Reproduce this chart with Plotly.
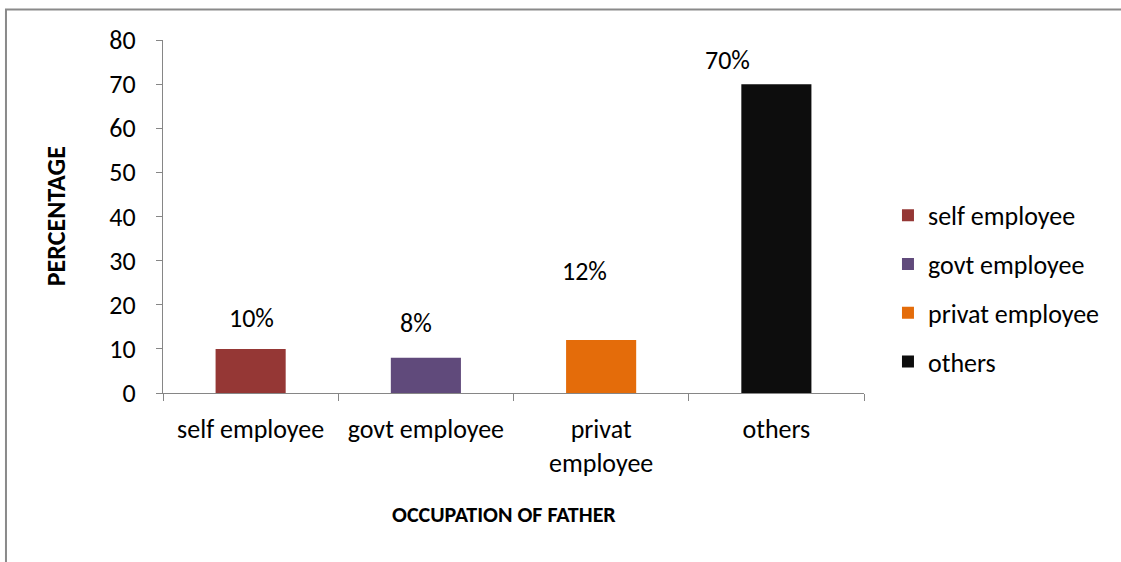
import plotly.graph_objects as go

# Occupation of father: share of respondents (%)
categories = ["self employee", "govt employee", "privat employee", "others"]
tick_labels = ["self employee", "govt employee", "privat<br>employee", "others"]
percentages = [10, 8, 12, 70]
value_labels = ["10%", "8%", "12%", "70%"]
bar_colors = ["#953735", "#604A7B", "#E46C0A", "#0D0D0D"]

# per-label nudges (px) for the value labels above the bars
label_dx = [1, -10, -17, -49]
label_dy = [31, 35, 69, 24]

FONT = "Calibri, Carlito, Lato, sans-serif"
AXIS_GREY = "#868686"
TXT = 26

fig = go.Figure()
for cat, val, col in zip(categories, percentages, bar_colors):
    fig.add_trace(go.Bar(
        x=[cat], y=[val], name=cat, width=0.4,
        marker=dict(color=col, line=dict(width=0)),
        legendgroup=cat, hoverinfo="x+y",
    ))

for cat, val, txt, dx, dy in zip(categories, percentages, value_labels, label_dx, label_dy):
    fig.add_annotation(x=cat, y=val, text=txt, showarrow=False,
                       xshift=dx, yshift=dy, font=dict(size=TXT, color="#000000"))

# axis titles
fig.add_annotation(x=-0.153, y=0.5, xref="paper", yref="paper", text="<b>PERCENTAGE</b>",
                   textangle=-90, showarrow=False, xanchor="center", yanchor="middle",
                   font=dict(size=26, color="#000000"))
fig.add_annotation(x=0.487, y=-0.345, xref="paper", yref="paper",
                   text="<b>OCCUPATION OF FATHER</b>", showarrow=False,
                   xanchor="center", yanchor="middle",
                   font=dict(size=22, color="#000000"))

# outer chart frame
fig.add_shape(type="rect", xref="paper", yref="paper",
              x0=-0.224, x1=1.7, y0=-0.8, y1=1.0864,
              line=dict(color="#8a8a8a", width=2), fillcolor="rgba(0,0,0,0)", layer="below")

fig.update_layout(
    width=1121, height=562,
    margin=dict(l=163, r=257, t=40, b=169),
    paper_bgcolor="white", plot_bgcolor="white",
    font=dict(family=FONT, size=TXT, color="#000000"),
    barmode="overlay",
    showlegend=True,
    legend=dict(x=1.0342, y=0.57, xanchor="left", yanchor="top",
                font=dict(size=TXT), tracegroupgap=12, bgcolor="rgba(0,0,0,0)"),
    xaxis=dict(
        type="category", categoryorder="array", categoryarray=categories,
        tickvals=categories, ticktext=tick_labels,
        range=[-0.5, 3.5], showline=True, linecolor=AXIS_GREY, linewidth=1.3,
        ticks="outside", tickson="boundaries", ticklen=7, tickcolor=AXIS_GREY,
        tickwidth=1.3, showgrid=False, zeroline=False, ticklabelstandoff=13,
    ),
    yaxis=dict(
        range=[0, 80], tickvals=[0, 10, 20, 30, 40, 50, 60, 70, 80],
        showline=True, linecolor=AXIS_GREY, linewidth=1.3,
        ticks="outside", ticklen=6, tickcolor=AXIS_GREY, tickwidth=1.3,
        showgrid=False, zeroline=False, ticklabelstandoff=15,
    ),
)

fig.write_html("out.html", config={"displayModeBar": False})
